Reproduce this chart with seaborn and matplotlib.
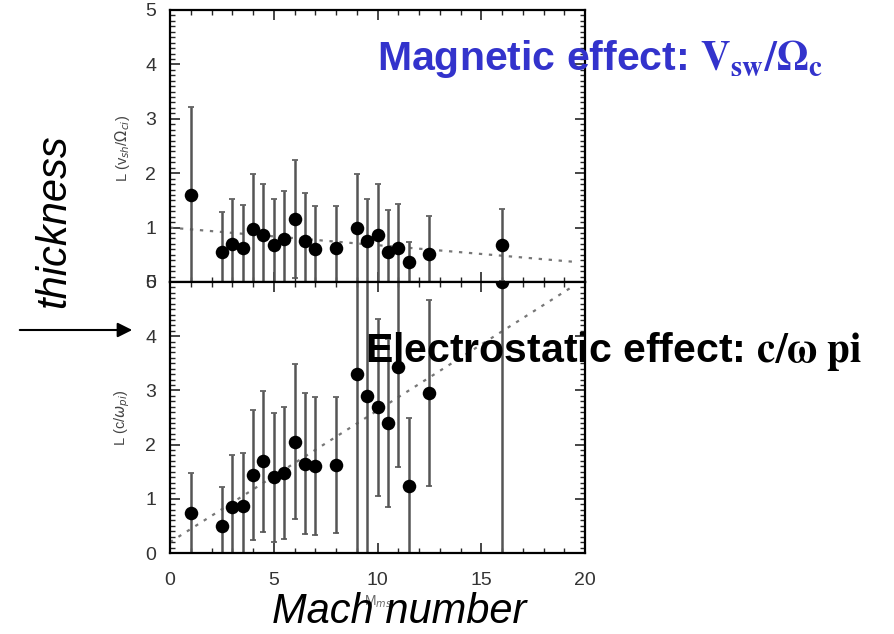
import numpy as np
import pandas as pd
import matplotlib
matplotlib.use("Agg")
import matplotlib.pyplot as plt
import seaborn as sns
from matplotlib.ticker import MultipleLocator

# ---- data ----
mach = [1, 2.5, 3, 3.5, 4, 4.5, 5, 5.5, 6, 6.5, 7, 8, 9, 9.5, 10, 10.5, 11, 11.5, 12.5, 16]
L_mag = [1.60, 0.55, 0.70, 0.62, 0.98, 0.86, 0.68, 0.79, 1.16, 0.76, 0.61, 0.62, 0.99, 0.76,
         0.86, 0.55, 0.62, 0.36, 0.51, 0.68]
err_mag = [1.62, 0.74, 0.83, 0.80, 1.01, 0.94, 0.84, 0.88, 1.08, 0.87, 0.79, 0.78, 1.00, 0.76,
           0.94, 0.77, 0.81, 0.38, 0.71, 0.67]
L_es = [0.74, 0.50, 0.85, 0.87, 1.44, 1.69, 1.40, 1.47, 2.05, 1.65, 1.60, 1.62, 3.30, 2.90,
        2.69, 2.39, 3.43, 1.24, 2.95, 5.00]
err_es = [0.74, 0.71, 0.96, 0.97, 1.20, 1.30, 1.19, 1.22, 1.43, 1.30, 1.27, 1.26, 3.30, 2.90,
          1.63, 1.55, 1.85, 1.25, 1.72, 5.00]
trend_x = [0, 19.5]
trend_mag = [1.00, 0.37]
trend_es = [0.20, 4.94]
x_ticks = [0, 5, 10, 15, 20]
y_ticks = [0, 1, 2, 3, 4, 5]

df = pd.DataFrame({"mach": mach, "L_mag": L_mag, "err_mag": err_mag,
                   "L_es": L_es, "err_es": err_es})
tr = pd.DataFrame({"x": trend_x, "mag": trend_mag, "es": trend_es})

sns.set_style("ticks")
plt.rcParams["font.family"] = ["Liberation Sans", "DejaVu Sans"]
plt.rcParams["mathtext.fontset"] = "stix"

W, H = 894, 634
fig = plt.figure(figsize=(W / 100, H / 100), dpi=100)
left, right = 170, 585
ax_top = fig.add_axes([left / W, 1 - 282 / H, (right - left) / W, 272 / H])
ax_bot = fig.add_axes([left / W, 1 - 553 / H, (right - left) / W, 271 / H])

for ax, ycol, ecol, tcol in [(ax_top, "L_mag", "err_mag", "mag"), (ax_bot, "L_es", "err_es", "es")]:
    ax.errorbar(df["mach"], df[ycol], yerr=df[ecol], fmt="none", ecolor="#555555",
                elinewidth=1.8, capsize=2.5, capthick=1.2, zorder=2)
    sns.lineplot(data=tr, x="x", y=tcol, ax=ax, color="#777777", lw=1.6,
                 linestyle=(0, (1.5, 3)), zorder=1)
    sns.scatterplot(data=df, x="mach", y=ycol, ax=ax, color="black", s=95,
                    edgecolor="black", linewidth=0, zorder=3)
    ax.set_xlim(0, 20)
    ax.set_ylim(0, 5)
    ax.set_xticks(x_ticks)
    ax.set_yticks(y_ticks)
    ax.xaxis.set_minor_locator(MultipleLocator(1))
    ax.yaxis.set_minor_locator(MultipleLocator(0.1))
    ax.tick_params(which="major", direction="in", length=7, width=1.2,
                   top=True, right=True, labelsize=14, labelcolor="#333333")
    ax.tick_params(which="minor", direction="in", length=3.5, width=1.0,
                   top=True, right=True)
    ax.tick_params(axis="x", which="major", pad=14)
    ax.tick_params(axis="y", which="major", pad=10)
    for s in ax.spines.values():
        s.set_linewidth(1.6)
        s.set_color("black")
    ax.set_xlabel("")
    ax.set_ylabel("")

ax_top.tick_params(labelbottom=False)

def fpos(x, y):
    return x / W, 1 - y / H

# small original axis labels
fig.text(*fpos(122, 148), r"L (v$_{sh}$/$\Omega_{ci}$)", rotation=90,
         ha="center", va="center", fontsize=10.5, color="#444444",
         math_fontfamily="dejavusans")
fig.text(*fpos(122, 418), r"L (c/$\omega_{pi}$)", rotation=90,
         ha="center", va="center", fontsize=10.5, color="#444444",
         math_fontfamily="dejavusans")
fig.text(*fpos(378, 602), r"M$_{ms}$", ha="center", va="center",
         fontsize=10, color="#666666", math_fontfamily="dejavusans")

# overlay annotations
fig.text(*fpos(377, 70), r"Magnetic effect: $\mathbf{V_{sw}/\Omega_c}$",
         ha="left", va="baseline", fontsize=29.5, fontweight="bold", color="#3333CC")
fig.text(*fpos(365, 362), r"Electrostatic effect: $\mathbf{c/\omega\ pi}$",
         ha="left", va="baseline", fontsize=29.5, fontweight="bold", color="black")
fig.text(*fpos(54, 221), "thickness", rotation=90, ha="center", va="center",
         fontsize=30, style="italic", color="black")
fig.text(*fpos(399, 623), "Mach number", ha="center", va="baseline",
         fontsize=30, style="italic", color="black")
fig.add_artist(matplotlib.patches.FancyArrowPatch(
    fpos(17, 330), fpos(135, 330), transform=fig.transFigure,
    arrowstyle="-|>", mutation_scale=22, lw=1.5, color="black"))

fig.savefig("out.png", dpi=100)
